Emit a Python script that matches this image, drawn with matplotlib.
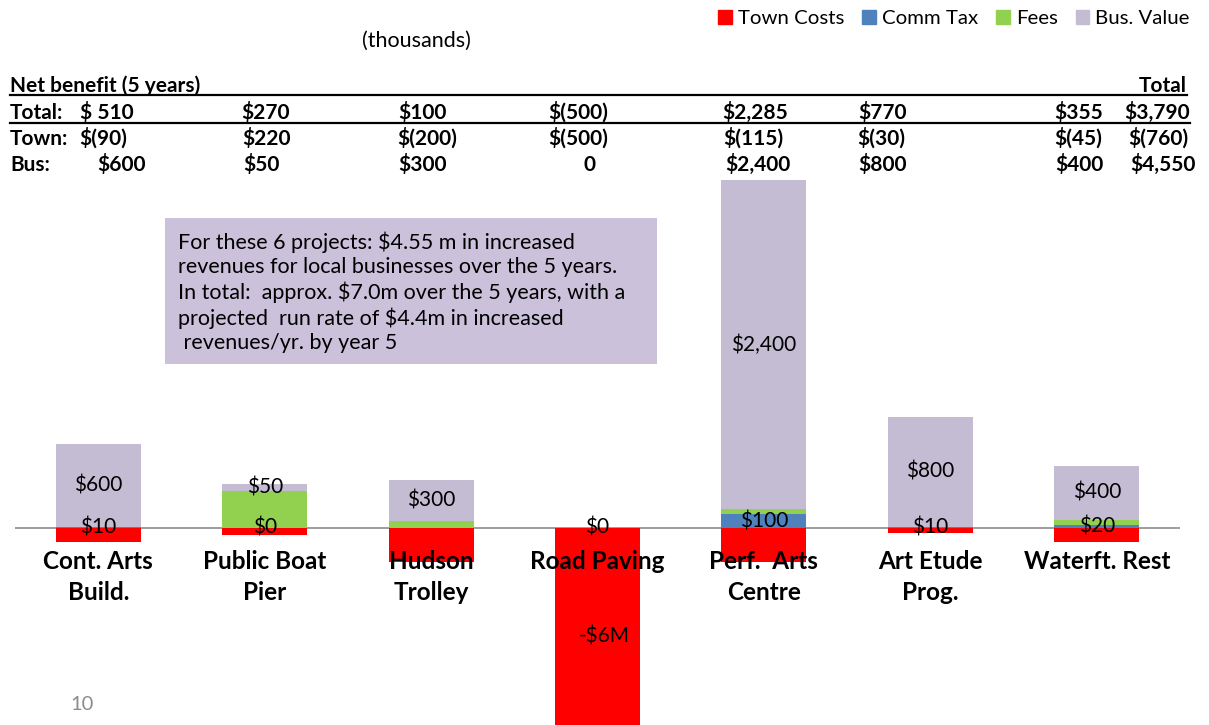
import numpy as np
import matplotlib
matplotlib.use('Agg')
import matplotlib.pyplot as plt
import matplotlib.patches as mpatches
from matplotlib.lines import Line2D

plt.rcParams['font.family'] = ['Lato', 'DejaVu Sans']

# ---Data (thousands)---
projects = ['Cont. Arts\nBuild.', 'Public Boat\nPier', 'Hudson\nTrolley', 'Road Paving',
            'Perf.  Arts\nCentre', 'Art Etude\nProg.', 'Waterft. Rest']
town_costs = [-100, -50, -250, -6000, -250, -40, -100]
comm_tax = [10, 0, 0, 0, 100, 10, 20]
fees = [0, 270, 50, 0, 35, 0, 35]
bus_value = [600, 50, 300, 0, 2400, 800, 400]

comm_labels = ['$10', '$0', '', '$0', '$100', '$10', '$20']
bus_labels = ['$600', '$50', '$300', '', '$2,400', '$800', '$400']
town_label = '-$6M'
town_label_idx = 3

# header table
row_names = ['Total:', 'Town:', 'Bus:']
total_row = ['$ 510', '$270', '$100', '$(500)', '$2,285', '$770', '$355', '$3,790']
town_row = ['$(90)', '$220', '$(200)', '$(500)', '$(115)', '$(30)', '$(45)', '$(760)']
bus_row = ['$600', '$50', '$300', '0', '$2,400', '$800', '$400', '$4,550']

note = ("For these 6 projects: $4.55 m in increased\n"
        "revenues for local businesses over the 5 years.\n"
        "In total:  approx. $7.0m over the 5 years, with a\n"
        "projected  run rate of $4.4m in increased\n"
        " revenues/yr. by year 5")

c_red = '#FF0000'
c_blue = '#4F81BD'
c_green = '#92D050'
c_lav = '#C4BCD3'

W, H = 1209, 725
fig = plt.figure(figsize=(W / 100, H / 100), dpi=100)

# axes placed so the baseline sits at y=528 px
scale = 0.1373  # px per thousand
ax = fig.add_axes([15 / W, 0, 1165 / W, 1])
ax.set_xlim(-0.5, 6.5)
ax.set_ylim(-(H - 528) / scale, 528 / scale)
ax.axis('off')

x = np.arange(len(projects))
bw = 0.51
comm = np.array(comm_tax)
fee = np.array(fees)
bus = np.array(bus_value)

ax.bar(x, town_costs, bw, color=c_red, zorder=2)
ax.bar(x, comm, bw, color=c_blue, zorder=2)
ax.bar(x, fee, bw, bottom=comm, color=c_green, zorder=2)
ax.bar(x, bus, bw, bottom=comm + fee, color=c_lav, zorder=2)
ax.axhline(0, color='#8C8C8C', lw=1.2, zorder=1)

for i in x:
    if comm_labels[i]:
        ax.text(i, comm[i] / 2, comm_labels[i], ha='center', va='center', fontsize=15, zorder=4)
    if bus_labels[i]:
        ax.text(i, comm[i] + fee[i] + bus[i] / 2, bus_labels[i], ha='center', va='center',
                fontsize=15, zorder=4)
    ax.annotate(projects[i], (i, 0), xytext=(0, -16), textcoords='offset points',
                ha='center', va='top', fontsize=17.5, fontweight='bold', linespacing=1.42, zorder=5)

ymin = ax.get_ylim()[0]
ax.text(town_label_idx + 0.04, ymin * 0.55, town_label, ha='center', va='center', fontsize=15, zorder=4)

# ---Header texts---
def ft(px, py, s, va='center', **kw):
    return fig.text(px / W, 1 - py / H, s, va=va, **kw)

ft(362, 41, '(thousands)', fontsize=15.5)
ft(10, 92, 'Net benefit (5 years)', va='baseline', fontsize=15, fontweight='bold')
ft(1187, 92, 'Total', va='baseline', fontsize=15, fontweight='bold', ha='right')

col_x = [80, 241, 398, 548, 722, 858, 1054, 1124]
row_y = [119, 145, 171]
town_x = [79, 242, 397, 548, 723, 857, 1054, 1128]
bus_x = [97, 243, 398, 583, 725, 858, 1055, 1130]
for name, ry, vals, xs in zip(row_names, row_y, [total_row, town_row, bus_row], [col_x, town_x, bus_x]):
    ft(10, ry, name, va='baseline', fontsize=15, fontweight='bold')
    for v, cx in zip(vals, xs):
        ft(cx, ry, v, va='baseline', fontsize=15, fontweight='bold')

for ly, x1 in [(95, 1187), (123, 1190)]:
    fig.add_artist(Line2D([10 / W, x1 / W], [1 - ly / H, 1 - ly / H], color='black', lw=1.6))

# note box
fig.add_artist(mpatches.Rectangle((165 / W, 1 - 364 / H), 492 / W, 146 / H,
                                  transform=fig.transFigure, fc='#CBC1DB', ec='none', zorder=0))
ft(178, 292, note, fontsize=15.5, linespacing=1.26)

ft(70, 704, '10', fontsize=14.5, color='#8C8C8C')

# legend
handles = [mpatches.Patch(color=c, label=l) for c, l in
           zip([c_red, c_blue, c_green, c_lav], ['Town Costs', 'Comm Tax', 'Fees', 'Bus. Value'])]
fig.legend(handles=handles, loc='upper right', bbox_to_anchor=(1204 / W, 1 + 4 / H), ncol=4,
           frameon=False, fontsize=14.7, handlelength=0.65, handleheight=0.65,
           handletextpad=0.3, columnspacing=0.9, borderaxespad=0.3)

plt.savefig('out.png', dpi=100)
